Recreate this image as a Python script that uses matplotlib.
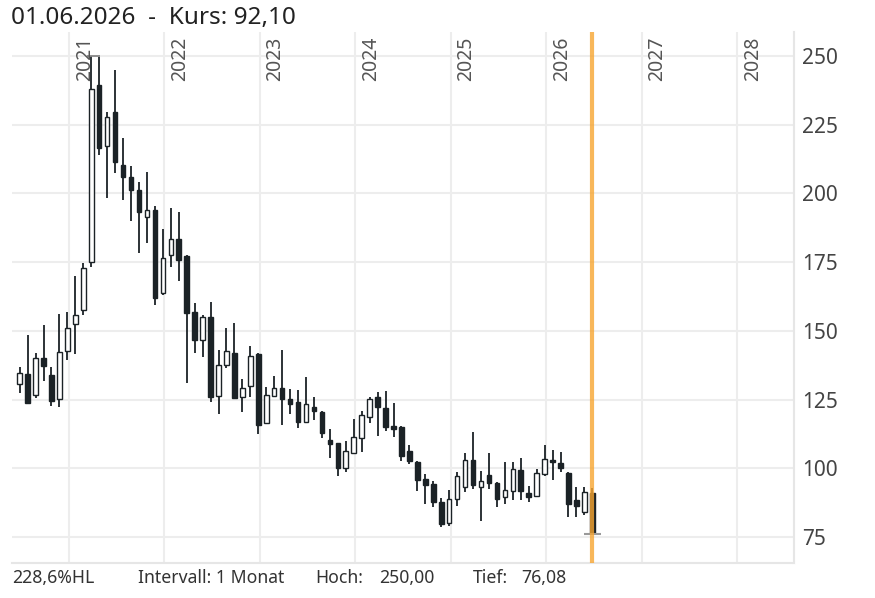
import numpy as np
import matplotlib
matplotlib.use('Agg')
import matplotlib.pyplot as plt

plt.rcParams['font.family'] = ['Noto Sans', 'DejaVu Sans']

# monthly candles, June 2020 .. June 2026
opens = [130.7, 134.2, 126.7, 140.0, 133.9, 125.2, 142.7, 152.5, 157.6, 174.9,
         239.5, 217.4, 229.7, 210.4, 206.1, 201.3, 191.3, 194.0, 163.7, 177.6,
         183.3, 177.4, 157.0, 146.5, 154.9, 126.3, 137.6, 141.8, 125.8, 130.1,
         141.6, 116.6, 126.3, 129.3, 125.3, 124.0, 117.0, 122.4, 120.6, 110.3,
         109.1, 100.0, 105.7, 110.9, 118.6, 126.1, 122.1, 115.5, 115.2, 106.3,
         102.4, 96.0, 94.3, 87.9, 80.0, 88.7, 93.3, 103.0, 93.3, 97.6,
         94.8, 89.7, 91.9, 99.2, 90.9, 89.9, 98.0, 103.0, 102.1, 98.2,
         88.5, 84.2, 91.0]
highs = [137.0, 148.5, 141.8, 152.1, 136.7, 156.0, 157.0, 170.1, 174.6, 250.0,
         249.8, 229.7, 244.9, 220.1, 210.0, 204.3, 207.9, 195.4, 187.1, 194.8,
         193.1, 177.6, 160.3, 155.8, 160.4, 143.1, 151.2, 152.8, 132.5, 144.6,
         141.8, 129.7, 133.7, 143.1, 128.7, 128.3, 133.1, 126.1, 120.8, 114.2,
         109.3, 110.1, 117.8, 120.9, 126.1, 127.7, 128.1, 123.9, 115.4, 108.5,
         102.6, 98.0, 95.5, 89.3, 92.1, 98.8, 105.7, 113.3, 99.0, 105.7,
         95.1, 102.4, 102.4, 103.6, 93.6, 99.6, 108.5, 106.7, 105.8, 98.8,
         93.1, 93.1, 92.7]
lows = [127.3, 123.5, 125.5, 131.9, 122.8, 122.4, 139.4, 141.6, 155.8, 173.1,
        214.0, 198.2, 207.6, 197.6, 190.1, 178.2, 181.9, 159.4, 163.1, 173.1,
        168.3, 131.2, 141.8, 140.4, 124.0, 119.7, 136.6, 125.1, 120.3, 126.1,
        112.5, 116.4, 126.0, 115.8, 119.8, 114.8, 116.7, 117.6, 110.9, 103.9,
        97.3, 98.8, 105.5, 105.8, 116.4, 111.9, 113.7, 111.3, 102.8, 101.5,
        91.8, 87.0, 85.8, 78.8, 79.0, 86.1, 91.2, 92.4, 80.8, 92.4,
        85.8, 87.0, 88.5, 88.5, 87.9, 89.7, 97.2, 95.8, 98.8, 82.4,
        82.4, 83.0, 76.08]
closes = [134.8, 123.7, 140.0, 137.2, 124.6, 142.2, 150.9, 155.8, 172.8, 237.9,
          216.4, 227.9, 211.6, 206.1, 201.3, 193.4, 194.0, 161.9, 176.6, 183.3,
          175.6, 156.4, 146.7, 155.2, 126.1, 137.4, 142.8, 125.5, 129.1, 140.9,
          115.8, 126.7, 129.3, 125.1, 123.4, 117.0, 123.3, 120.9, 112.7, 108.7,
          100.2, 106.3, 111.3, 119.4, 125.1, 122.4, 115.2, 114.2, 104.3, 102.7,
          95.8, 94.0, 87.9, 79.8, 88.7, 97.2, 103.0, 93.9, 95.2, 94.8,
          89.0, 92.1, 99.8, 91.9, 89.7, 98.2, 103.4, 102.3, 100.0, 87.0,
          86.1, 91.5, 76.3]

years = [2021, 2022, 2023, 2024, 2025, 2026, 2027, 2028]
yticks = [75, 100, 125, 150, 175, 200, 225, 250]
title = "01.06.2026  -  Kurs: 92,10"
high_val, low_val = 250.00, 76.08

dark = '#1b2226'
grid = '#ededed'

x = 2020 + (5.8 + np.arange(len(opens))) / 12.0
o = np.array(opens); c = np.array(closes)
h = np.array(highs); l = np.array(lows)
up = c >= o

fig = plt.figure(figsize=(8.75, 5.98), dpi=100)
ax = fig.add_axes([12 / 875, 1 - 563 / 598, 782 / 875, 531 / 598])
ax.set_xlim(2020.403, 2028.596)
ax.set_ylim(65.54, 258.73)

for yr in years:
    ax.axvline(yr, color=grid, lw=1.5, zorder=0)
for t in yticks:
    ax.axhline(t, color=grid, lw=1.5, zorder=0)

ax.vlines(x, l, h, color=dark, lw=1.3, zorder=2)
bw = 0.048
bottoms = np.minimum(o, c)
heights = np.maximum(np.abs(c - o), 0.4)
ax.bar(x[up], heights[up], bottom=bottoms[up], width=bw, facecolor='white',
       edgecolor=dark, lw=1.0, zorder=3)
ax.bar(x[~up], heights[~up], bottom=bottoms[~up], width=bw, facecolor=dark,
       edgecolor=dark, lw=1.0, zorder=3)

# high / low markers
ih = int(np.argmax(h)); il = int(np.argmin(l))
ax.hlines(high_val, x[ih] - 0.04, x[ih] + 0.09, color='#888888', lw=1.3, zorder=4)
ax.hlines(low_val, x[il] - 0.09, x[il] + 0.09, color='#999999', lw=1.5, zorder=4)

ax.axvline(x[-1], color='#f7a531', lw=3, alpha=0.8, zorder=5)

for yr in years:
    ax.text(yr + 0.06, 257.0, str(yr), rotation=90, ha='left', va='top',
            fontsize=14, color='#555555', zorder=6)

ax.yaxis.tick_right()
ax.set_yticks(yticks)
ax.set_xticks([])
ax.tick_params(axis='y', length=0, pad=6, labelsize=15, labelcolor='#444444')
for s in ['left', 'top']:
    ax.spines[s].set_visible(False)
ax.spines['right'].set_color('#e6e6e6')
ax.spines['bottom'].set_color('#e6e6e6')
ax.spines['right'].set_linewidth(1.5)
ax.spines['bottom'].set_linewidth(1.5)

fig.text(11 / 875, 1 - 18 / 598, title, fontsize=17.5, color='#222222', va='center')
foot_y = 1 - 578 / 598
fs = 12.7
fig.text(12 / 875, foot_y, "228,6%HL", fontsize=fs, color='#333333', va='center')
fig.text(138 / 875, foot_y, "Intervall: 1 Monat", fontsize=fs, color='#333333', va='center')
fig.text(315 / 875, foot_y, "Hoch:", fontsize=fs, color='#333333', va='center')
fig.text(379 / 875, foot_y, "250,00", fontsize=fs, color='#333333', va='center')
fig.text(473 / 875, foot_y, "Tief:", fontsize=fs, color='#333333', va='center')
fig.text(521 / 875, foot_y, "76,08", fontsize=fs, color='#333333', va='center')

fig.savefig('out.png', dpi=100)
